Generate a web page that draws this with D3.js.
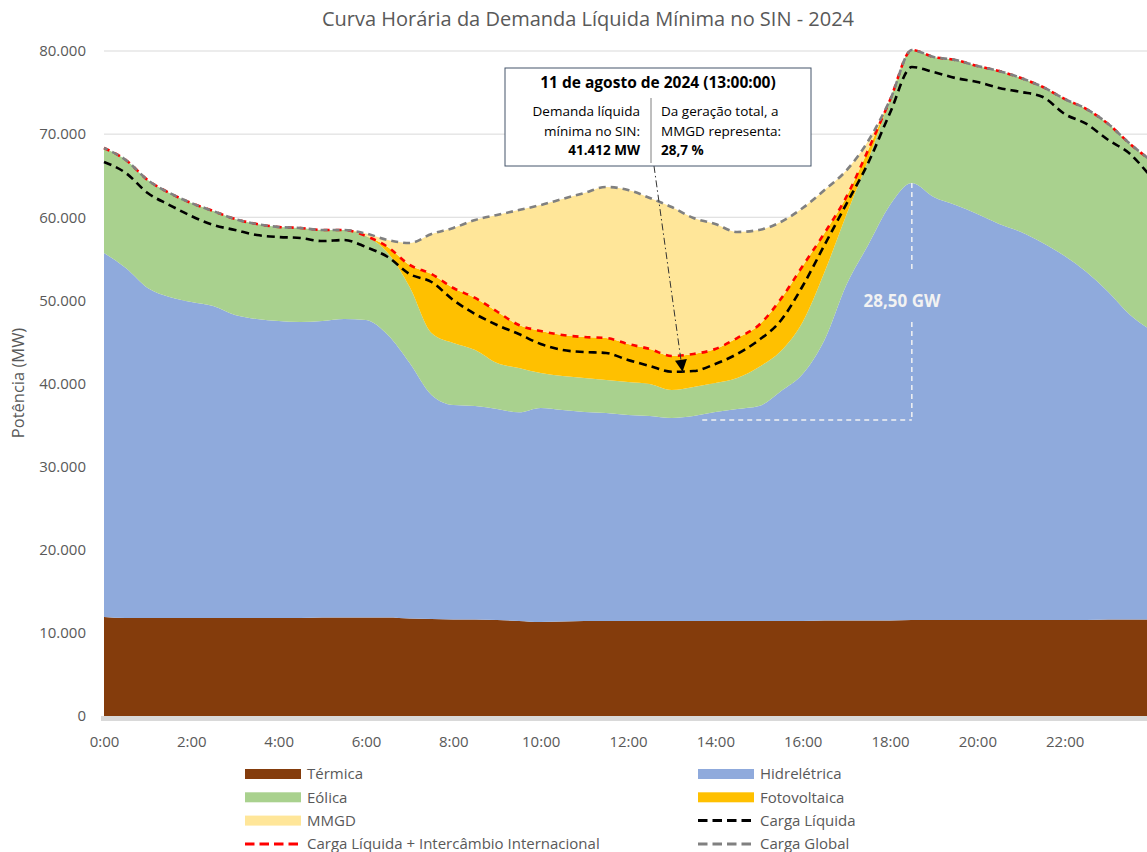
<!DOCTYPE html>
<html>
<head>
<meta charset="utf-8">
<script src="https://cdn.jsdelivr.net/npm/d3@7/dist/d3.min.js"></script>
<style>
  body { margin: 0; background: #fff; }
  svg { font-family: "Open Sans", "Noto Sans", sans-serif; }
</style>
</head>
<body>
<svg id="chart" width="1147" height="852"></svg>
<script>
// horários (a cada 30 min) e geração por fonte, em MW
var horarios = ["0:00","0:30","1:00","1:30","2:00","2:30","3:00","3:30","4:00","4:30",
  "5:00","5:30","6:00","6:30","7:00","7:30","8:00","8:30","9:00","9:30",
  "10:00","10:30","11:00","11:30","12:00","12:30","13:00","13:30","14:00","14:30",
  "15:00","15:30","16:00","16:30","17:00","17:30","18:00","18:30","19:00","19:30",
  "20:00","20:30","21:00","21:30","22:00","22:30","23:00","23:30","23:54"];

var termica = [11910,11790,11790,11790,11790,11790,11790,11790,11790,11790,
  11850,11850,11850,11850,11730,11670,11610,11610,11550,11430,
  11310,11370,11430,11430,11430,11430,11430,11430,11430,11430,
  11430,11430,11430,11490,11490,11490,11490,11550,11550,11550,
  11550,11550,11550,11550,11550,11550,11610,11610,11610];

var hidreletrica = [43790,42100,39700,38610,38010,37530,36450,35970,35730,35610,
  35670,35910,35790,33980,30740,26950,25800,25680,25380,25100,
  25740,25440,25140,25020,24780,24660,24420,24660,25140,25500,
  25860,27650,29710,33740,40360,45170,49980,52570,50890,49920,
  48840,47640,46680,45350,43790,41860,39400,36630,35070];

var eolica = [12630,13000,12990,12520,11910,11430,11550,11430,11310,11310,
  10950,10710,10100,9870,9140,7460,7460,6740,5540,5330,
  4210,4090,4090,3970,3970,3850,3370,3490,3490,3730,
  4700,4830,6260,8180,8420,10230,12630,16000,16840,17450,
  17810,18400,18520,18770,18890,19610,20210,20570,20450];

var fotovoltaica = [0,0,0,0,0,0,0,0,0,0,
  0,0,0,720,2650,7090,6620,6260,6190,5180,
  5060,4930,4930,5050,4570,4210,4090,3970,4090,4810,
  5050,6260,6740,4690,2170,1200,0,0,0,0,
  0,0,0,0,0,0,0,0,0];

var mmgd = [0,0,0,0,0,0,0,0,0,0,
  0,0,300,840,2640,4810,7220,9380,11610,13830,
  15150,16370,17330,18170,18530,18170,17920,16360,15040,12760,
  11430,9260,6970,5180,3180,1080,0,0,0,0,
  0,0,0,0,0,0,0,0,0];

var cargaLiquida = [66650,65320,62920,61470,60150,59070,58470,57860,57620,57500,
  57140,57260,56420,55220,53170,52210,50040,48360,47040,45950,
  44750,44030,43790,43670,42830,42110,41410,41500,42350,43550,
  45230,47580,51730,56660,61590,66530,72540,78070,77470,76750,
  76270,75550,75070,74470,72420,71220,69290,67610,65320];

var horasTicks = [0,2,4,6,8,10,12,14,16,18,20,22];
var potenciaTicks = [0,10000,20000,30000,40000,50000,60000,70000,80000];

// anotações
var minimoHora = 13.25, minimoValor = 41412;
var picoHidroHora = 18.5, picoHidro = 64120;
var valeHidroHora = 13.7, valeHidro = 35620;

var svg = d3.select('#chart');
var textColor = '#595959';

var x = d3.scaleLinear().domain([0, 24]).range([104, 1152]);
var y = d3.scaleLinear().domain([0, 80000]).range([716, 51]);

var br = d3.formatLocale({decimal: ',', thousands: '.', grouping: [3], currency: ['R$', '']});
var fmt = br.format(',');

var dados = horarios.map(function(h, i) {
  var p = h.split(':');
  return {
    t: +p[0] + (+p[1]) / 60,
    termica: termica[i],
    hidreletrica: hidreletrica[i],
    eolica: eolica[i],
    fotovoltaica: fotovoltaica[i],
    mmgd: mmgd[i],
    liquida: cargaLiquida[i]
  };
});

var chaves = ['termica', 'hidreletrica', 'eolica', 'fotovoltaica', 'mmgd'];
var cores = {termica: '#843C0C', hidreletrica: '#8FAADC', eolica: '#A9D18E',
  fotovoltaica: '#FFC000', mmgd: '#FFE699'};

// Title
svg.append('text')
  .attr('x', 588).attr('y', 26)
  .attr('text-anchor', 'middle')
  .attr('font-size', 20)
  .attr('fill', textColor)
  .text('Curva Horária da Demanda Líquida Mínima no SIN - 2024');

// Grid lines
svg.append('g').selectAll('line')
  .data(potenciaTicks.slice(1))
  .enter().append('line')
  .attr('x1', 104).attr('x2', 1147)
  .attr('y1', function(d) { return y(d); })
  .attr('y2', function(d) { return y(d); })
  .attr('stroke', '#D9D9D9')
  .attr('stroke-width', 1);

// Stacked areas
var series = d3.stack().keys(chaves)(dados);
var area = d3.area()
  .curve(d3.curveMonotoneX)
  .x(function(d) { return x(d.data.t); })
  .y0(function(d) { return y(d[0]); })
  .y1(function(d) { return y(d[1]); });

svg.append('g').selectAll('path')
  .data(series)
  .enter().append('path')
  .attr('d', area)
  .attr('fill', function(d) { return cores[d.key]; });

// Axis base band
svg.append('rect')
  .attr('x', 101).attr('y', y(0))
  .attr('width', 1046).attr('height', 5)
  .attr('fill', '#D9D9D9');

// Lines
var linha = function(f) {
  return d3.line().curve(d3.curveMonotoneX)
    .x(function(d) { return x(d.t); })
    .y(function(d) { return y(f(d)); });
};

svg.append('path')
  .datum(dados)
  .attr('d', linha(function(d) { return d.liquida; }))
  .attr('fill', 'none').attr('stroke', '#000')
  .attr('stroke-width', 2.6).attr('stroke-dasharray', '8,5');

svg.append('path')
  .datum(dados)
  .attr('d', linha(function(d) { return d.termica + d.hidreletrica + d.eolica + d.fotovoltaica; }))
  .attr('fill', 'none').attr('stroke', '#FF0000')
  .attr('stroke-width', 2.6).attr('stroke-dasharray', '6,6');

svg.append('path')
  .datum(dados)
  .attr('d', linha(function(d) { return d.termica + d.hidreletrica + d.eolica + d.fotovoltaica + d.mmgd; }))
  .attr('fill', 'none').attr('stroke', '#808080')
  .attr('stroke-width', 2.6).attr('stroke-dasharray', '7,5')
  .attr('stroke-dashoffset', 3);

// Axes
var yAxis = d3.axisLeft(y).tickValues(potenciaTicks).tickFormat(fmt).tickSize(0).tickPadding(18);
var gy = svg.append('g').attr('transform', 'translate(104,0)').call(yAxis);
gy.select('.domain').remove();
gy.selectAll('text').attr('font-size', 15).attr('fill', textColor).attr('font-family', '"Open Sans", sans-serif');

var xAxis = d3.axisBottom(x).tickValues(horasTicks).tickFormat(function(h) { return h + ':00'; })
  .tickSize(0).tickPadding(20);
var gx = svg.append('g').attr('transform', 'translate(0,' + y(0) + ')').call(xAxis);
gx.select('.domain').remove();
gx.selectAll('text').attr('font-size', 15).attr('fill', textColor).attr('font-family', '"Open Sans", sans-serif');

// Y title
svg.append('text')
  .attr('transform', 'translate(18,383) rotate(-90)')
  .attr('text-anchor', 'middle')
  .attr('dy', '0.35em')
  .attr('font-size', 16.5)
  .attr('fill', textColor)
  .text('Potência (MW)');

// 28,50 GW annotation
var xv = x(picoHidroHora);
var white = '#F2F2F2';
svg.append('line')
  .attr('x1', xv).attr('x2', xv).attr('y1', y(picoHidro)).attr('y2', 273)
  .attr('stroke', white).attr('stroke-width', 1.5).attr('stroke-dasharray', '5,4');
svg.append('line')
  .attr('x1', xv).attr('x2', xv).attr('y1', 322).attr('y2', y(valeHidro))
  .attr('stroke', white).attr('stroke-width', 1.5).attr('stroke-dasharray', '5,4');
svg.append('line')
  .attr('x1', x(valeHidroHora)).attr('x2', xv).attr('y1', y(valeHidro)).attr('y2', y(valeHidro))
  .attr('stroke', white).attr('stroke-width', 1.5).attr('stroke-dasharray', '5,4');
svg.append('text')
  .attr('x', 902).attr('y', 307)
  .attr('text-anchor', 'middle')
  .attr('font-size', 17).attr('font-weight', 'bold')
  .attr('fill', white)
  .text(((picoHidro - valeHidro) / 1000).toFixed(2).replace('.', ',') + ' GW');

// Arrow to the minimum
svg.append('defs').append('marker')
  .attr('id', 'seta')
  .attr('viewBox', '0 0 10 10')
  .attr('refX', 10).attr('refY', 5)
  .attr('markerWidth', 14).attr('markerHeight', 12)
  .attr('markerUnits', 'userSpaceOnUse')
  .attr('orient', 'auto')
  .append('path').attr('d', 'M0,0L10,5L0,10Z').attr('fill', '#000');

svg.append('line')
  .attr('x1', 654).attr('y1', 166)
  .attr('x2', x(minimoHora)).attr('y2', y(minimoValor))
  .attr('stroke', '#333').attr('stroke-width', 1)
  .attr('stroke-dasharray', '7,3,1.5,3')
  .attr('marker-end', 'url(#seta)');

// Info box
var box = svg.append('g');
box.append('rect')
  .attr('x', 505).attr('y', 68)
  .attr('width', 306).attr('height', 98)
  .attr('fill', '#fff')
  .attr('stroke', '#44546A').attr('stroke-width', 1);
box.append('text')
  .attr('x', 658).attr('y', 88)
  .attr('text-anchor', 'middle')
  .attr('font-size', 15.5).attr('font-weight', 'bold').attr('fill', '#000')
  .text('11 de agosto de 2024 (13:00:00)');
box.append('line')
  .attr('x1', 651).attr('x2', 651).attr('y1', 98).attr('y2', 163)
  .attr('stroke', '#7F7F7F').attr('stroke-width', 1);

var esquerda = ['Demanda líquida', 'mínima no SIN:', fmt(minimoValor) + ' MW'];
var direita = ['Da geração total, a', 'MMGD representa:', '28,7 %'];
esquerda.forEach(function(s, i) {
  box.append('text')
    .attr('x', 640).attr('y', 116 + i * 19.5)
    .attr('text-anchor', 'end')
    .attr('font-size', 13.5)
    .attr('font-weight', i == 2 ? 'bold' : 'normal')
    .attr('fill', '#000')
    .text(s);
});
direita.forEach(function(s, i) {
  box.append('text')
    .attr('x', 661).attr('y', 116 + i * 19.5)
    .attr('font-size', 13.5)
    .attr('font-weight', i == 2 ? 'bold' : 'normal')
    .attr('fill', '#000')
    .text(s);
});

// Legend
var legenda = [
  {nome: 'Térmica', tipo: 'area', cor: cores.termica},
  {nome: 'Hidrelétrica', tipo: 'area', cor: cores.hidreletrica},
  {nome: 'Eólica', tipo: 'area', cor: cores.eolica},
  {nome: 'Fotovoltaica', tipo: 'area', cor: cores.fotovoltaica},
  {nome: 'MMGD', tipo: 'area', cor: cores.mmgd},
  {nome: 'Carga Líquida', tipo: 'linha', cor: '#000'},
  {nome: 'Carga Líquida + Intercâmbio Internacional', tipo: 'linha', cor: '#FF0000'},
  {nome: 'Carga Global', tipo: 'linha', cor: '#808080'}
];

var leg = svg.append('g').selectAll('g')
  .data(legenda)
  .enter().append('g')
  .attr('transform', function(d, i) {
    return 'translate(' + (i % 2 ? 698 : 245) + ',' + (774 + Math.floor(i / 2) * 23.3) + ')';
  });

leg.filter(function(d) { return d.tipo == 'area'; })
  .append('rect')
  .attr('x', 0).attr('y', -5)
  .attr('width', 56).attr('height', 10)
  .attr('fill', function(d) { return d.cor; });

leg.filter(function(d) { return d.tipo == 'linha'; })
  .append('line')
  .attr('x1', 0).attr('x2', 56).attr('y1', 0).attr('y2', 0)
  .attr('stroke', function(d) { return d.cor; })
  .attr('stroke-width', 3)
  .attr('stroke-dasharray', '9.5,5');

leg.append('text')
  .attr('x', 62).attr('dy', '0.35em')
  .attr('font-size', 15)
  .attr('fill', textColor)
  .text(function(d) { return d.nome; });
</script>
</body>
</html>
